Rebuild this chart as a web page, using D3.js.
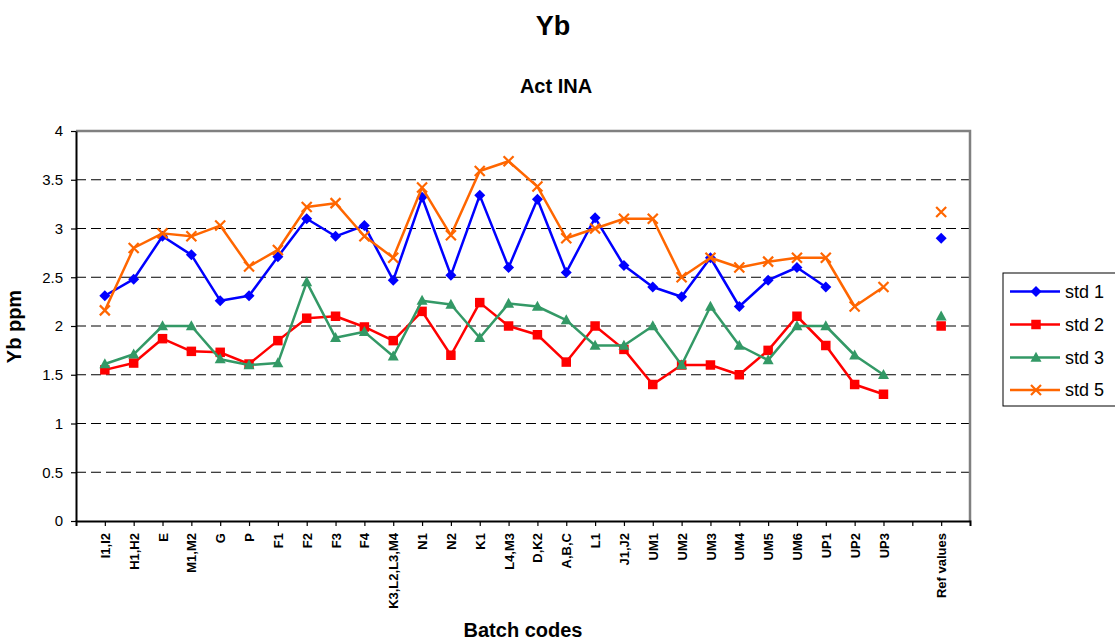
<!DOCTYPE html>
<html>
<head>
<meta charset="utf-8">
<script src="https://cdn.jsdelivr.net/npm/d3@7"></script>
<style>
  html, body { margin: 0; padding: 0; background: #fff; }
  svg { display: block; font-family: Arial, "Liberation Sans", sans-serif; }
</style>
</head>
<body>
<svg id="chart" width="1115" height="644"></svg>
<script>
const categories = ["I1,I2","H1,H2","E","M1,M2","G","P","F1","F2","F3","F4","K3,L2,L3,M4","N1","N2","K1","L4,M3","D,K2","A,B,C","L1","J1,J2","UM1","UM2","UM3","UM4","UM5","UM6","UP1","UP2","UP3"," ","Ref values"];
const std1 = [2.31,2.48,2.92,2.73,2.26,2.31,2.71,3.10,2.92,3.03,2.47,3.32,2.52,3.34,2.60,3.30,2.55,3.11,2.62,2.40,2.30,2.70,2.20,2.47,2.60,2.40,null,null,null,2.90];
const std2 = [1.55,1.62,1.87,1.74,1.73,1.61,1.85,2.08,2.10,1.99,1.85,2.15,1.70,2.24,2.00,1.91,1.63,2.00,1.76,1.40,1.60,1.60,1.50,1.75,2.10,1.80,1.40,1.30,null,2.00];
const std3 = [1.61,1.71,2.00,2.00,1.66,1.60,1.62,2.45,1.88,1.94,1.69,2.26,2.22,1.88,2.23,2.20,2.06,1.80,1.80,2.00,1.60,2.20,1.80,1.65,2.00,2.00,1.70,1.50,null,2.10];
const std5 = [2.16,2.80,2.95,2.92,3.03,2.61,2.78,3.22,3.26,2.92,2.70,3.42,2.93,3.59,3.69,3.43,2.90,3.00,3.10,3.10,2.50,2.70,2.60,2.66,2.70,2.70,2.20,2.40,null,3.17];
const yTicks = [0,0.5,1,1.5,2,2.5,3,3.5,4];
const seriesNames = ["std 1","std 2","std 3","std 5"];

const series = [
  {name: seriesNames[0], values: std1, color: "#0000FF", marker: "diamond"},
  {name: seriesNames[1], values: std2, color: "#FF0000", marker: "square"},
  {name: seriesNames[2], values: std3, color: "#339966", marker: "triangle"},
  {name: seriesNames[3], values: std5, color: "#FF6600", marker: "x"}
];

const svg = d3.select("#chart");
const L = 76, R = 970, T = 131, B = 521;

const x = d3.scalePoint().domain(categories).range([L, R]).padding(1);
const y = d3.scaleLinear().domain([0, 4]).range([B, T]);

// gridlines
svg.append("g").selectAll("line")
  .data(yTicks.filter(d => d > 0 && d < 4))
  .join("line")
  .attr("x1", L).attr("x2", R)
  .attr("y1", d => y(d)).attr("y2", d => y(d))
  .attr("stroke", "#000").attr("stroke-width", 1)
  .attr("stroke-dasharray", "10,5");

// plot border (top, right) gray
svg.append("path")
  .attr("d", `M${L},${T}H${R}V${B}`)
  .attr("fill", "none").attr("stroke", "#808080").attr("stroke-width", 2.5);

// y axis
const yAxis = svg.append("g").attr("transform", `translate(${L},0)`)
  .call(d3.axisLeft(y).tickValues(yTicks).tickFormat(d3.format("")).tickSize(5).tickSizeOuter(0));
yAxis.select(".domain").attr("stroke", "#000").attr("stroke-width", 2);
yAxis.selectAll(".tick line").attr("stroke", "#000").attr("stroke-width", 1.2);
yAxis.selectAll(".tick text").attr("font-size", 15).attr("fill", "#000")
  .attr("font-family", "Arial, 'Liberation Sans', sans-serif").attr("x", -13);

// x axis
const xAxis = svg.append("g").attr("transform", `translate(0,${B})`)
  .call(d3.axisBottom(x).tickSize(5).tickSizeOuter(5));
xAxis.select(".domain").attr("stroke", "#000").attr("stroke-width", 2);
xAxis.selectAll(".tick line").attr("stroke", "#000").attr("stroke-width", 1.2);
xAxis.selectAll(".tick text")
  .attr("font-size", 13).attr("font-weight", "bold").attr("fill", "#000")
  .attr("font-family", "Arial, 'Liberation Sans', sans-serif")
  .attr("text-anchor", "end")
  .attr("transform", "rotate(-90)")
  .attr("x", -12).attr("y", 0).attr("dy", "0.35em");

// lines
const line = d3.line()
  .defined(d => d.v != null)
  .x(d => x(d.c)).y(d => y(d.v));

function markerPath(type, s) {
  if (type === "diamond") return d3.symbol(d3.symbolDiamond2 || d3.symbolDiamond, s * s * 0.55)();
  if (type === "square") return `M${-s/2},${-s/2}H${s/2}V${s/2}H${-s/2}Z`;
  if (type === "triangle") return `M0,${-s*0.58}L${s*0.55},${s*0.42}L${-s*0.55},${s*0.42}Z`;
  return `M${-s/2},${-s/2}L${s/2},${s/2}M${s/2},${-s/2}L${-s/2},${s/2}`;
}

function drawMarker(g, type, color, size) {
  if (type === "x") {
    g.append("path").attr("d", markerPath(type, size)).attr("stroke", color)
      .attr("stroke-width", 2.2).attr("fill", "none");
  } else if (type === "diamond") {
    const s = size / 2;
    g.append("path").attr("d", `M0,${-s}L${s},0L0,${s}L${-s},0Z`).attr("fill", color);
  } else {
    g.append("path").attr("d", markerPath(type, size)).attr("fill", color);
  }
}

const sizes = {diamond: 11, square: 9.5, triangle: 10, x: 10};

series.forEach(s => {
  const data = categories.map((c, i) => ({c, v: s.values[i]}));
  svg.append("path").datum(data)
    .attr("d", line)
    .attr("fill", "none").attr("stroke", s.color).attr("stroke-width", 2.5)
    .attr("stroke-linejoin", "round");
  data.filter(d => d.v != null).forEach(d => {
    const g = svg.append("g").attr("transform", `translate(${x(d.c)},${y(d.v)})`);
    drawMarker(g, s.marker, s.color, sizes[s.marker]);
  });
});

// titles
svg.append("text").attr("x", 553).attr("y", 35).attr("text-anchor", "middle")
  .attr("font-size", 27).attr("font-weight", "bold").text("Yb");
svg.append("text").attr("x", 556).attr("y", 92.5).attr("text-anchor", "middle")
  .attr("font-size", 20).attr("font-weight", "bold").text("Act INA");
svg.append("text").attr("x", (L + R) / 2).attr("y", 636.5).attr("text-anchor", "middle")
  .attr("font-size", 20).attr("font-weight", "bold").text("Batch codes");
svg.append("text").attr("transform", `translate(21,326.5) rotate(-90)`).attr("text-anchor", "middle")
  .attr("font-size", 20).attr("font-weight", "bold").text("Yb ppm");

// legend
const lg = svg.append("g");
lg.append("rect").attr("x", 1003).attr("y", 273).attr("width", 130).attr("height", 133)
  .attr("fill", "#fff").attr("stroke", "#000").attr("stroke-width", 1);
const legY = [291.5, 324.5, 357.5, 390];
series.forEach((s, i) => {
  lg.append("line").attr("x1", 1010).attr("x2", 1060).attr("y1", legY[i]).attr("y2", legY[i])
    .attr("stroke", s.color).attr("stroke-width", 2.5);
  const g = lg.append("g").attr("transform", `translate(1036,${legY[i]})`);
  drawMarker(g, s.marker, s.color, sizes[s.marker]);
  lg.append("text").attr("x", 1065).attr("y", legY[i]).attr("dy", "0.35em")
    .attr("font-size", 18).text(s.name);
});
</script>
</body>
</html>
